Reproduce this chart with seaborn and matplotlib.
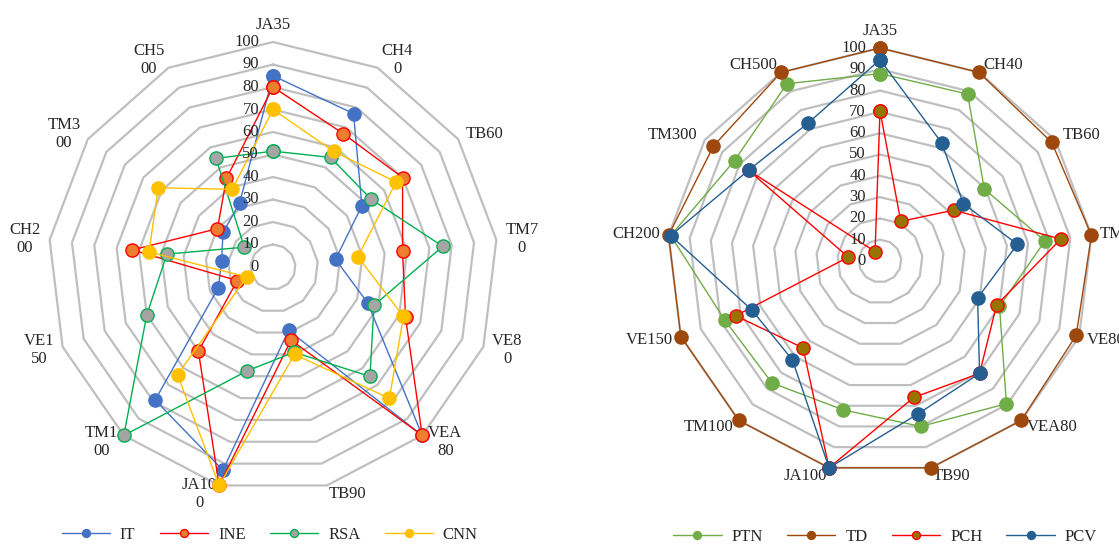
import numpy as np
import matplotlib
matplotlib.use('Agg')
import matplotlib.pyplot as plt
from matplotlib.transforms import offset_copy
import seaborn as sns

# Categories, clockwise from the top
categories = ['JA35', 'CH40', 'TB60', 'TM70', 'VE80', 'VEA80', 'TB90',
              'JA100', 'TM100', 'VE150', 'CH200', 'TM300', 'CH500']
# the left chart wraps its labels onto two lines
left_labels = ['JA35', 'CH4\n0', 'TB60', 'TM7\n0', 'VE8\n0', 'VEA\n80', 'TB90',
               'JA10\n0', 'TM1\n00', 'VE1\n50', 'CH2\n00', 'TM3\n00', 'CH5\n00']
ring_levels = [0, 10, 20, 30, 40, 50, 60, 70, 80, 90, 100]

# Left chart
it_vals = [85, 77, 48, 28, 45, 100, 29, 93, 79, 26, 23, 27, 32]
ine_vals = [80, 67, 70, 58, 63, 100, 33.5, 100, 50, 17, 63, 30, 44.5]
rsa_vals = [51.5, 55, 53, 76, 48, 65, 39, 47.5, 100, 60, 47.5, 15.5, 54.5]
cnn_vals = [70, 58, 66.5, 38, 62, 78, 40, 100, 64, 12.5, 55.5, 62, 39]

# Right chart
ptn_vals = [88, 88.5, 59.5, 78, 60, 89.5, 80, 72, 76.5, 78, 99, 83, 94]
td_vals = [100, 100, 98, 100, 98.5, 100, 100, 100, 100, 100, 100, 95, 100]
pch_vals = [70.5, 21, 42, 85.5, 58.5, 70.5, 66, 100, 54.5, 72.5, 15, 75, 5]
pcv_vals = [94.5, 62.5, 47.5, 65, 49, 70.5, 74, 100, 62, 64.5, 99, 75, 73]

sns.set_style('white')
plt.rcParams['font.family'] = ['Liberation Serif', 'DejaVu Serif']

n = len(categories)
theta = np.linspace(0, 2 * np.pi, n, endpoint=False)
theta_closed = np.append(theta, 2 * np.pi)

fig = plt.figure(figsize=(11.19, 5.45), dpi=100)
ax_l = fig.add_axes([48 / 1119, 53 / 545, 450 / 1119, 450 / 545], projection='polar')
ax_r = fig.add_axes([667 / 1119, 71 / 545, 426 / 1119, 426 / 545], projection='polar')


def setup_radar(ax, labels):
    ax.set_theta_zero_location('N')
    ax.set_theta_direction(-1)
    ax.grid(False)
    ax.spines['polar'].set_visible(False)
    ax.set_xticks([])
    ax.set_yticks([])
    # polygon rings
    for lev in ring_levels[1:]:
        ax.plot(theta_closed, [lev] * (n + 1), color='#BFBFBF', lw=1.6,
                zorder=0.5, clip_on=False)
    # value labels along the top spoke
    off = offset_copy(ax.transData, fig=fig, x=-14, y=0, units='dots')
    for lev in ring_levels:
        ax.text(0, lev, str(lev), transform=off, ha='right', va='center',
                fontsize=12, color='#262626', zorder=10)
    # category labels
    for th, lab in zip(theta, labels):
        s = np.sin(th)
        ha = 'left' if s > 0.05 else ('right' if s < -0.05 else 'center')
        va = 'bottom' if th == 0 else 'center'
        ax.text(th, 104, lab, ha=ha, va=va, multialignment='center',
                fontsize=12, color='#262626')


def add_series(ax, vals, line_c, face_c, edge_c, z):
    v = list(vals) + [vals[0]]
    sns.lineplot(x=theta_closed, y=v, ax=ax, sort=False, estimator=None,
                 color=line_c, lw=1.0, marker='o', markersize=9.5,
                 markerfacecolor=face_c, markeredgecolor=edge_c,
                 markeredgewidth=1.0, clip_on=False, zorder=z)
    return ax.lines[-1]


setup_radar(ax_l, left_labels)
setup_radar(ax_r, categories)

left_series = [
    ('IT', it_vals, '#4472C4', '#4472C4', '#4472C4'),
    ('INE', ine_vals, '#FF0000', '#ED7D31', '#FF0000'),
    ('RSA', rsa_vals, '#00B050', '#A5A5A5', '#00B050'),
    ('CNN', cnn_vals, '#FFC000', '#FFC000', '#FFC000'),
]
right_series = [
    ('PTN', ptn_vals, '#70AD47', '#70AD47', '#70AD47'),
    ('TD', td_vals, '#9E480E', '#9E480E', '#9E480E'),
    ('PCH', pch_vals, '#FF0000', '#997300', '#FF0000'),
    ('PCV', pcv_vals, '#255E91', '#255E91', '#255E91'),
]

for ax, series, anchor in [(ax_l, left_series, (0.241, 0.018)),
                           (ax_r, right_series, (0.791, 0.015))]:
    handles = []
    for i, (name, vals, lc, fc, ec) in enumerate(series):
        handles.append(add_series(ax, vals, lc, fc, ec, 2 + i))
    ax.set_ylim(0, 100)
    ax.set_xlabel('')
    ax.set_ylabel('')
    fig.legend(handles, [s[0] for s in series], loc='center', bbox_to_anchor=anchor,
               ncol=4, frameon=False, markerscale=0.6, handlelength=2.9,
               columnspacing=1.45, handletextpad=0.6, fontsize=12)

fig.savefig('out.png', dpi=100)
